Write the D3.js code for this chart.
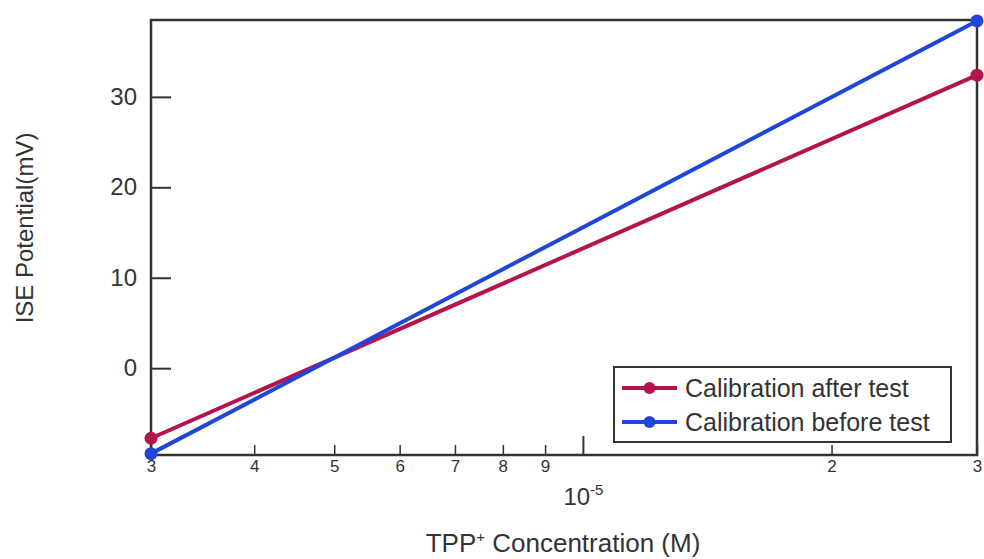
<!DOCTYPE html>
<html>
<head>
<meta charset="utf-8">
<script src="https://cdn.jsdelivr.net/npm/d3@7"></script>
<style>
body { margin: 0; background: #fff; overflow: hidden; }
text { font-family: "Liberation Sans", Arial, sans-serif; fill: #333; }
</style>
</head>
<body>
<script>
// data
const concentration = [3e-6, 3e-5];
const afterTest = [-7.75, 32.4];
const beforeTest = [-9.45, 38.4];
const seriesNames = ["Calibration after test", "Calibration before test"];
const seriesColors = ["#b5134e", "#1e46d8"];
const yTicks = [0, 10, 20, 30];
const xMinorTicks = [3e-6, 4e-6, 5e-6, 6e-6, 7e-6, 8e-6, 9e-6, 2e-5, 3e-5];
const xMinorLabels = ["3", "4", "5", "6", "7", "8", "9", "2", "3"];
const xMajorTicks = [1e-5];

const margin = {top: 20, right: 7, bottom: 104, left: 151};
const W = 984, H = 559;
const width = W - margin.left - margin.right;
const height = H - margin.top - margin.bottom;

const svg = d3.select("body").append("svg")
    .attr("width", W)
    .attr("height", H);

const g = svg.append("g")
    .attr("transform", `translate(${margin.left}, ${margin.top})`);

const x = d3.scaleLog().domain([3e-6, 3e-5]).range([0, width]);
const y = d3.scaleLinear().domain([-9.6, 38.5]).range([height, 0]);

// frame
g.append("rect")
    .attr("width", width)
    .attr("height", height)
    .attr("fill", "none")
    .attr("stroke", "#333")
    .attr("stroke-width", 2.5);

// y axis, ticks pointing inward
const yAxis = g.append("g")
    .call(d3.axisLeft(y).tickValues(yTicks).tickSize(-20).tickPadding(14));
yAxis.select(".domain").remove();
yAxis.selectAll(".tick line").attr("stroke", "#333").attr("stroke-width", 2);
yAxis.selectAll(".tick text")
    .style("font-size", "24px")
    .attr("fill", "#333");

// x axis minor ticks + small labels
const xMinor = g.append("g")
    .attr("transform", `translate(0, ${height})`)
    .call(d3.axisBottom(x).tickValues(xMinorTicks).tickSize(-10).tickPadding(5)
        .tickFormat((d, i) => xMinorLabels[i]));
xMinor.select(".domain").remove();
xMinor.selectAll(".tick line").attr("stroke", "#333").attr("stroke-width", 1.5);
xMinor.selectAll(".tick text")
    .style("font-size", "17px")
    .attr("fill", "#444");

// x axis major tick (decade) with 10^-5 label underneath
const xMajor = g.append("g")
    .attr("transform", `translate(0, ${height})`)
    .call(d3.axisBottom(x).tickValues(xMajorTicks).tickSize(-19).tickFormat(""));
xMajor.select(".domain").remove();
xMajor.selectAll(".tick line").attr("stroke", "#333").attr("stroke-width", 2);
xMajor.selectAll(".tick").append("text")
    .attr("y", 50)
    .attr("text-anchor", "middle")
    .style("font-size", "24px")
    .attr("fill", "#333")
    .call(t => {
        t.append("tspan").text("10");
        t.append("tspan").attr("dy", -10).style("font-size", "15px").text("-5");
    });

// lines
const series = [afterTest, beforeTest];
const line = d3.line()
    .x((d, i) => x(concentration[i]))
    .y(d => y(d));

series.forEach((s, k) => {
    g.append("path")
        .datum(s)
        .attr("fill", "none")
        .attr("stroke", seriesColors[k])
        .attr("stroke-width", 4)
        .attr("d", line);
    g.selectAll(null)
        .data(s)
        .join("circle")
        .attr("cx", (d, i) => x(concentration[i]))
        .attr("cy", d => y(d))
        .attr("r", 6.5)
        .attr("fill", seriesColors[k]);
});

// legend
const legend = svg.append("g").attr("transform", "translate(614, 367)");
legend.append("rect")
    .attr("width", 337)
    .attr("height", 75)
    .attr("fill", "#fff")
    .attr("stroke", "#333")
    .attr("stroke-width", 2);
seriesNames.forEach((name, k) => {
    const row = legend.append("g").attr("transform", `translate(0, ${21 + k * 34})`);
    row.append("line")
        .attr("x1", 8).attr("x2", 63)
        .attr("stroke", seriesColors[k])
        .attr("stroke-width", 4);
    row.append("circle")
        .attr("cx", 35.5).attr("r", 6)
        .attr("fill", seriesColors[k]);
    row.append("text")
        .attr("x", 71)
        .attr("dy", "0.35em")
        .style("font-size", "25px")
        .text(name);
});

// axis titles
const xTitle = svg.append("text")
    .attr("x", 563)
    .attr("y", 552)
    .attr("text-anchor", "middle")
    .style("font-size", "26px");
xTitle.append("tspan").text("TPP");
xTitle.append("tspan").attr("dy", -10).style("font-size", "15px").text("+");
xTitle.append("tspan").attr("dy", 10).text(" Concentration (M)");

svg.append("text")
    .attr("transform", "translate(25, 228) rotate(-90)")
    .attr("text-anchor", "middle")
    .attr("dy", "0.35em")
    .style("font-size", "24px")
    .text("ISE Potential(mV)");
</script>
</body>
</html>
